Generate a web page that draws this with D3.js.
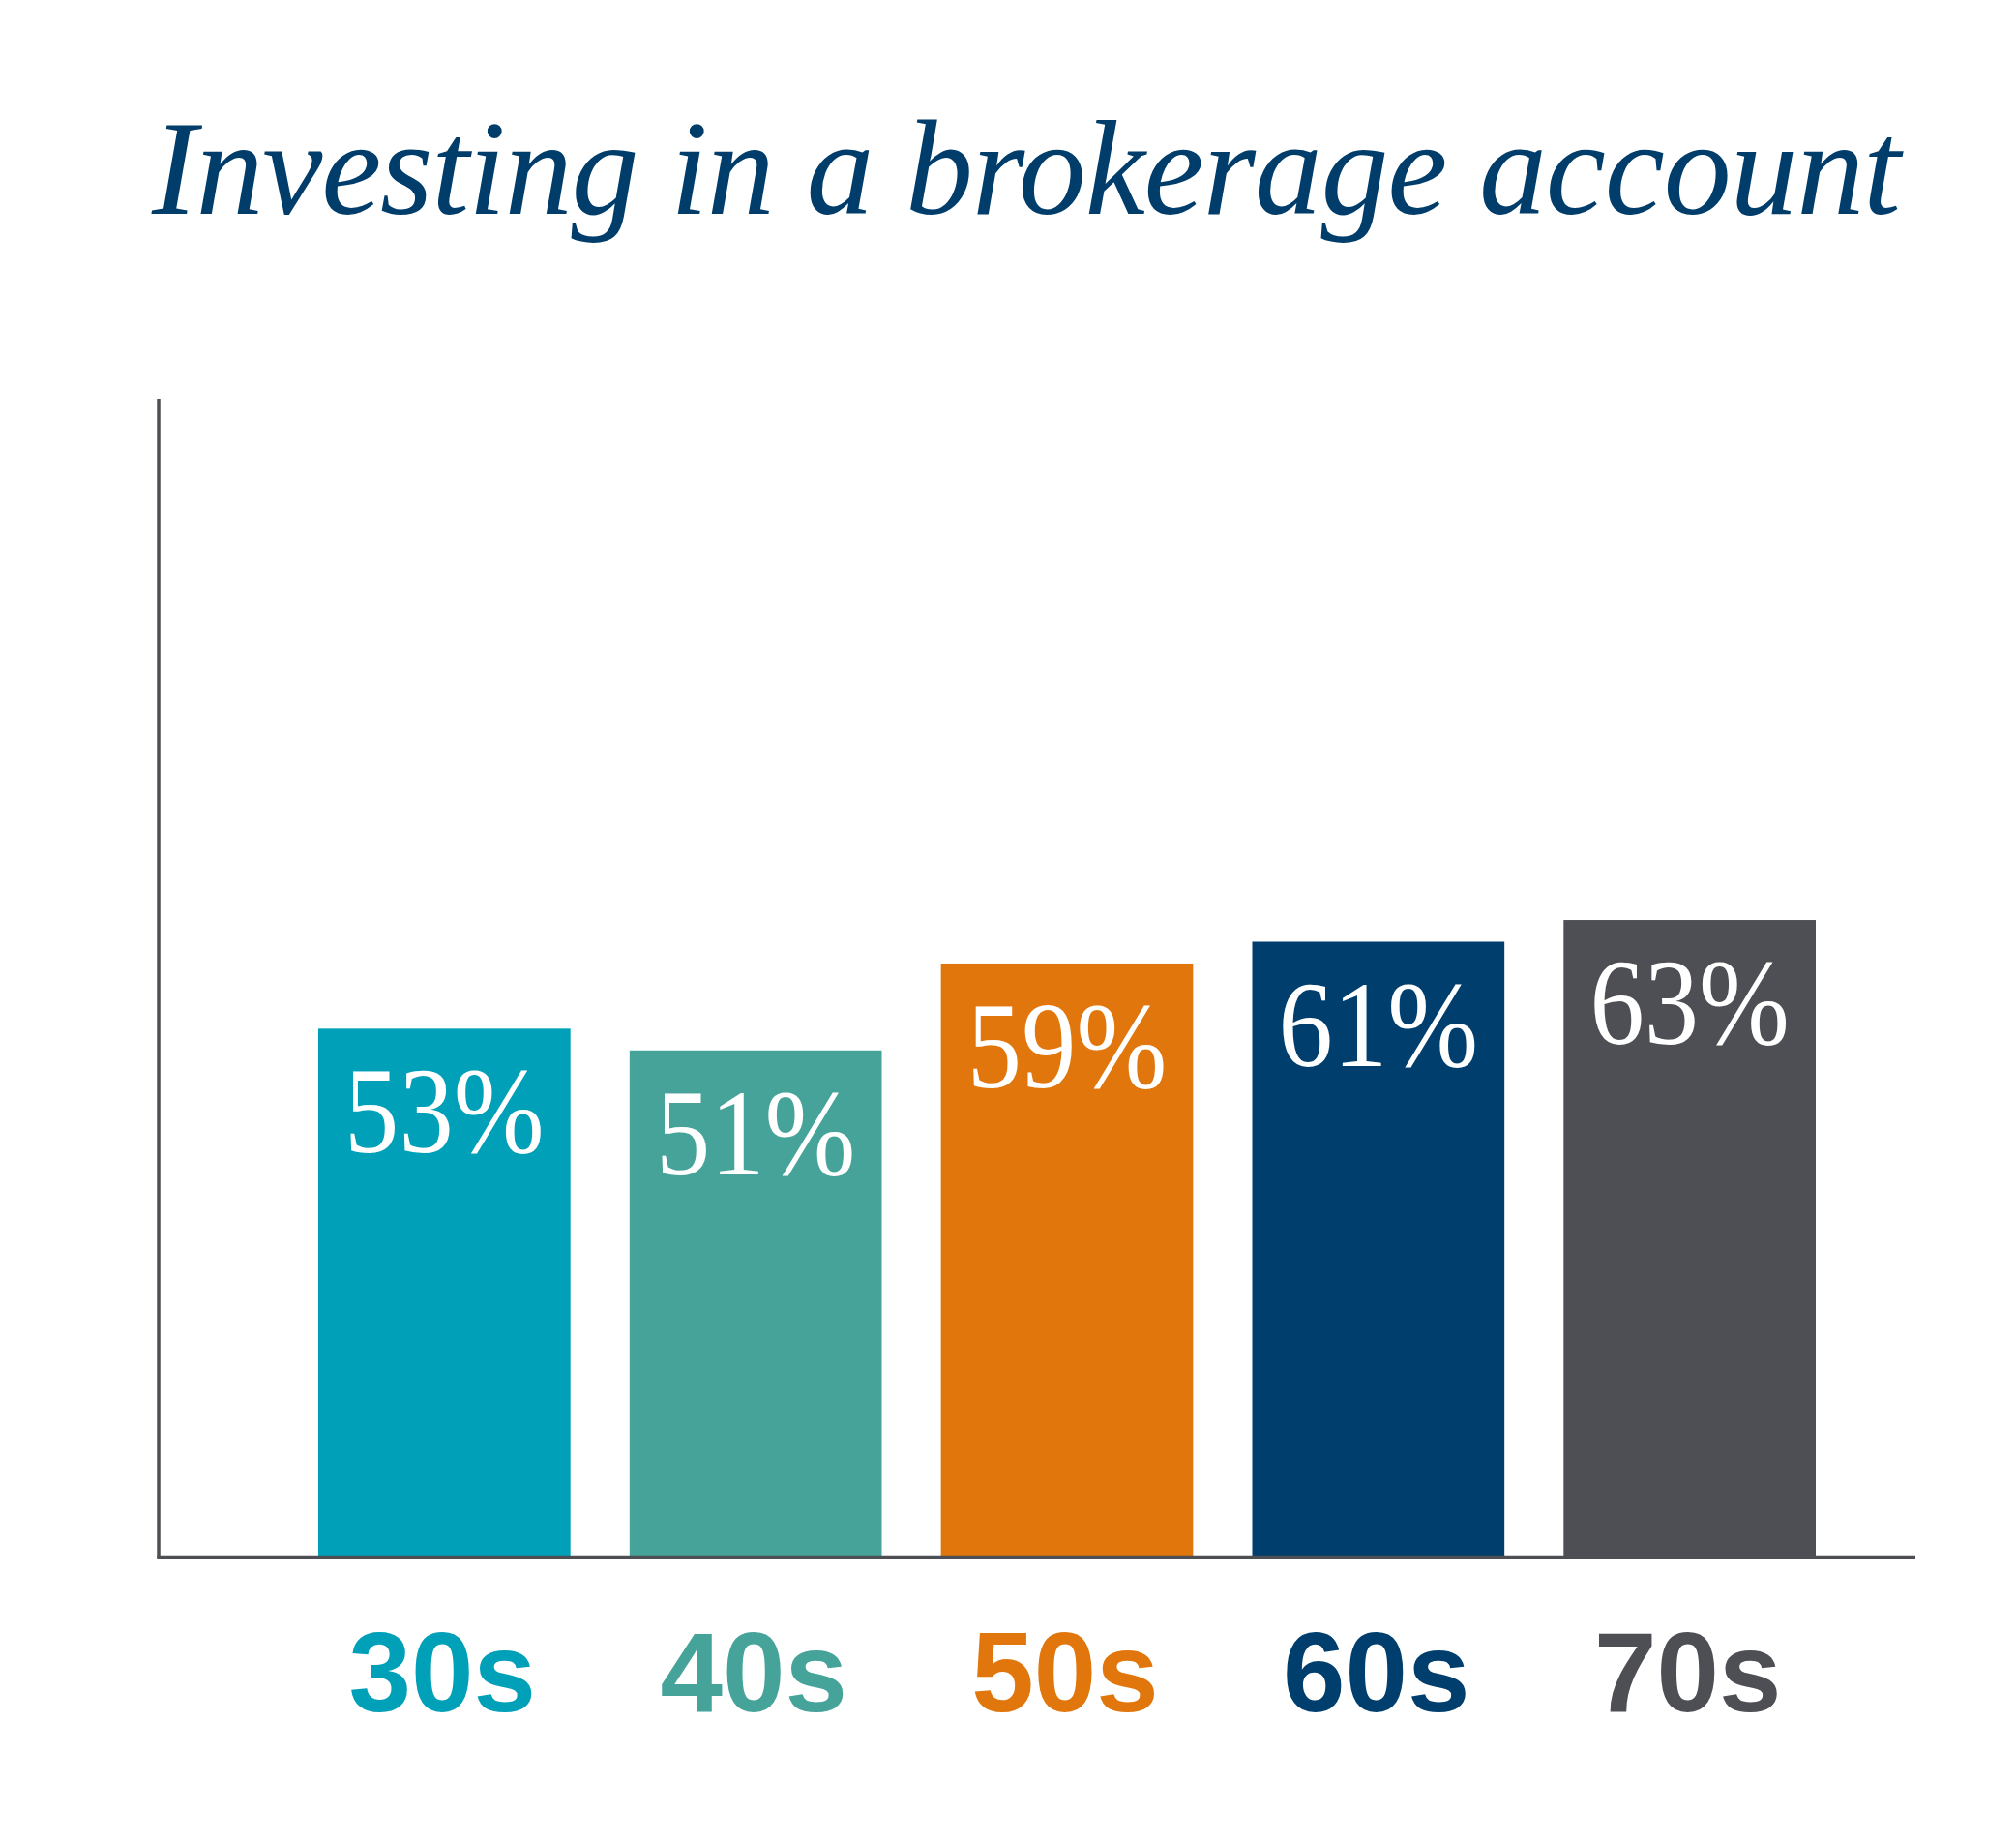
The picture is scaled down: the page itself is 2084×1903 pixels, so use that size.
<!DOCTYPE html>
<html>
<head>
<meta charset="utf-8">
<script src="https://cdn.jsdelivr.net/npm/d3@7"></script>
<style>
  body { margin: 0; background: #fff; }
</style>
</head>
<body>
<div id="chart"></div>
<script>
// Chart data
const title = "Investing in a brokerage account";
const categories = ["30s", "40s", "50s", "60s", "70s"];
const values = [53, 51, 59, 61, 63];
const valueLabels = ["53%", "51%", "59%", "61%", "63%"];
const colors = ["#00a0b9", "#46a39a", "#e1770c", "#003e6d", "#4e4f54"];

const width = 2084,
  height = 1903;

const svg = d3.select("#chart").append("svg")
  .attr("width", width)
  .attr("height", height);

// Scales
const xScale = d3.scaleBand()
  .domain(categories)
  .range([329, 1877])
  .paddingInner(0.19)
  .paddingOuter(0);

const yScale = d3.scaleLinear()
  .domain([4.5, 111])
  .range([1608, 412]);

const axisX = 164,
  axisRight = 1980,
  axisColor = "#4e4f54";

// Title
svg.append("text")
  .attr("x", 157)
  .attr("y", 221)
  .attr("textLength", 1808)
  .attr("lengthAdjust", "spacing")
  .style("font-family", "'Liberation Serif', serif")
  .style("font-style", "italic")
  .style("font-size", "140px")
  .style("fill", "#003d6b")
  .text(title);

// Bars
svg.selectAll(".bar")
  .data(values)
  .enter().append("rect")
    .classed("bar", true)
    .attr("x", (d, i) => xScale(categories[i]))
    .attr("y", d => yScale(d))
    .attr("width", xScale.bandwidth())
    .attr("height", d => yScale.range()[0] - yScale(d))
    .style("fill", (d, i) => colors[i]);

// Value labels inside bars, squeezed a little to match the narrow serif
svg.selectAll(".value-label")
  .data(values)
  .enter().append("text")
    .classed("value-label", true)
    .attr("transform", (d, i) =>
      `translate(${ xScale(categories[i]) + xScale.bandwidth() / 2 } ${ yScale(d) + 128 }) scale(0.88 1)`)
    .attr("text-anchor", "middle")
    .style("font-family", "'Liberation Serif', serif")
    .style("font-size", "128px")
    .style("fill", "#fff")
    .text((d, i) => valueLabels[i]);

// Axis lines
svg.append("line")
  .attr("x1", axisX)
  .attr("x2", axisX)
  .attr("y1", yScale(111))
  .attr("y2", yScale.range()[0] + 1.5)
  .style("stroke", axisColor)
  .style("stroke-width", 3.5);

svg.append("line")
  .attr("x1", axisX - 1.75)
  .attr("x2", axisRight)
  .attr("y1", yScale.range()[0] + 1.5)
  .attr("y2", yScale.range()[0] + 1.5)
  .style("stroke", axisColor)
  .style("stroke-width", 3.5);

// Category labels
svg.selectAll(".cat-label")
  .data(categories)
  .enter().append("text")
    .classed("cat-label", true)
    .attr("x", d => xScale(d) + xScale.bandwidth() / 2 - 2)
    .attr("y", 1769)
    .attr("text-anchor", "middle")
    .style("font-family", "'Liberation Sans', Arial, sans-serif")
    .style("font-weight", "bold")
    .style("font-size", "116px")
    .style("fill", (d, i) => colors[i])
    .text(d => d);
</script>
</body>
</html>
